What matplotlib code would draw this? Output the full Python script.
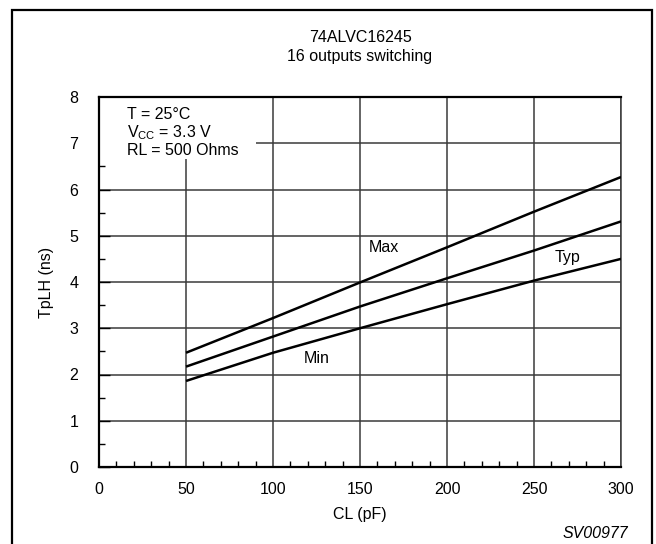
import matplotlib
matplotlib.use("Agg")
import matplotlib.pyplot as plt
from matplotlib.patches import Rectangle
from matplotlib.ticker import MultipleLocator

plt.rcParams['font.family'] = ['Liberation Sans', 'DejaVu Sans']
plt.rcParams['mathtext.default'] = 'regular'

# data
cl = [50, 100, 150, 200, 250, 300]
tp_max = [2.47, 3.22, 3.99, 4.75, 5.52, 6.27]
tp_typ = [2.17, 2.82, 3.47, 4.08, 4.68, 5.31]
tp_min = [1.86, 2.47, 3.00, 3.52, 4.03, 4.50]

FS = 11.5
W, H = 656, 544
fig = plt.figure(figsize=(W / 100, H / 100), dpi=100)
ax = fig.add_axes([99 / W, 1 - 467 / H, 522 / W, 370 / H])

# outer frame of the figure
fig.patches.append(Rectangle((12 / W, -0.1), 640 / W, 1.1 - 10 / H,
                             transform=fig.transFigure, fill=False,
                             edgecolor='black', linewidth=1.6))

grid_col = '#3a3a3a'
ax.set_axisbelow(True)
ax.grid(True, which='major', color=grid_col, linewidth=1.1)

for y in (tp_max, tp_typ, tp_min):
    ax.plot(cl, y, color='black', linewidth=1.8, solid_capstyle='butt', zorder=3)

ax.set_xlim(0, 300)
ax.set_ylim(0, 8)
ax.xaxis.set_major_locator(MultipleLocator(50))
ax.xaxis.set_minor_locator(MultipleLocator(10))
ax.yaxis.set_major_locator(MultipleLocator(1))
ax.yaxis.set_minor_locator(MultipleLocator(0.5))
ax.tick_params(which='both', direction='in', color='black', width=1.0)
ax.tick_params(axis='x', which='major', length=0, pad=11, labelsize=FS)
ax.tick_params(axis='x', which='minor', length=4)
ax.tick_params(axis='y', which='major', length=8, pad=15, labelsize=FS)
ax.tick_params(axis='y', which='minor', length=4)

for s in ['left', 'bottom', 'top']:
    ax.spines[s].set_linewidth(1.6)
ax.spines['right'].set_linewidth(1.1)
ax.spines['right'].set_color(grid_col)

# white panel behind the conditions text
ax.add_patch(Rectangle((0, 6.65), 90, 1.35, facecolor='white',
                       edgecolor='none', zorder=1))
ax.text(16, 7.78, 'T = 25°C\n$V_{CC}$ = 3.3 V\nRL = 500 Ohms',
        fontsize=FS, va='top', ha='left', linespacing=1.1, zorder=4)

ax.text(164, 4.74, 'Max', fontsize=FS, ha='center', va='center')
ax.text(269, 4.54, 'Typ', fontsize=FS, ha='center', va='center')
ax.text(125, 2.34, 'Min', fontsize=FS, ha='center', va='center')

ax.set_xlabel('CL (pF)', fontsize=FS, labelpad=7)
ax.set_ylabel('TpLH (ns)', fontsize=FS, labelpad=11)

fig.text(360 / W, 1 - 37.5 / H, '74ALVC16245', fontsize=FS,
         ha='center', va='center')
fig.text(360 / W, 1 - 57 / H, '16 outputs switching', fontsize=FS,
         ha='center', va='center')
fig.text(628 / W, 1 - 533 / H, 'SV00977', fontsize=FS, style='italic',
         ha='right', va='center')

fig.savefig('out.png', dpi=100)
